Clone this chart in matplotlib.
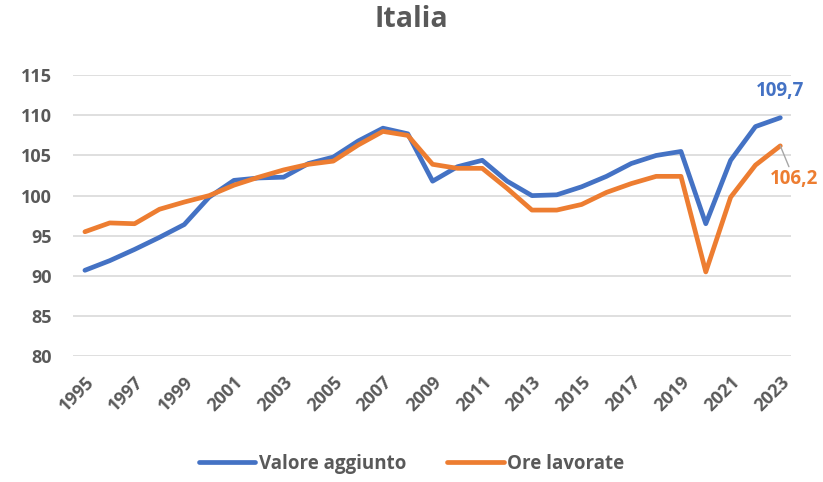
import numpy as np
import matplotlib.pyplot as plt

plt.rcParams['font.family'] = ['Open Sans', 'DejaVu Sans']
plt.rcParams['font.weight'] = 'bold'

# Dati (indice)
anni = list(range(1995, 2024))
valore_aggiunto = [90.7, 91.9, 93.3, 94.8, 96.4, 99.8, 101.9, 102.2, 102.3, 104.0,
                   104.8, 106.8, 108.4, 107.7, 101.8, 103.6, 104.4, 101.8, 100.0, 100.1,
                   101.1, 102.4, 104.0, 105.0, 105.5, 96.5, 104.4, 108.6, 109.7]
ore_lavorate = [95.5, 96.6, 96.5, 98.3, 99.2, 100.0, 101.3, 102.3, 103.2, 103.9,
                104.3, 106.3, 108.0, 107.5, 103.9, 103.4, 103.4, 100.9, 98.2, 98.2,
                98.9, 100.4, 101.5, 102.4, 102.4, 90.5, 99.8, 103.8, 106.2]
y_ticks = [80, 85, 90, 95, 100, 105, 110, 115]

BLU = '#4472C4'
ARANCIO = '#ED7D31'
GRIGIO = '#595959'

fig = plt.figure(figsize=(8.23, 4.82), dpi=100)
ax = fig.add_axes([0.0887, 0.261, 0.873, 0.583])

ax.plot(anni, valore_aggiunto, color=BLU, lw=3.4, label='Valore aggiunto', solid_capstyle='round')
ax.plot(anni, ore_lavorate, color=ARANCIO, lw=3.4, label='Ore lavorate', solid_capstyle='round')

ax.set_ylim(80, 115)
ax.set_xlim(1994.52, 2023.45)
ax.set_yticks(y_ticks)
ax.set_xticks(anni[::2])
ax.set_xticklabels([str(a) for a in anni[::2]], rotation=45, ha='right', rotation_mode='anchor')
ax.grid(axis='y', color='#D9D9D9', lw=1.2)
ax.set_axisbelow(True)
for s in ax.spines.values():
    s.set_visible(False)
ax.tick_params(length=0, labelsize=13, labelcolor=GRIGIO)
ax.tick_params(axis='y', pad=15)
ax.tick_params(axis='x', pad=12)

# etichette finali
ax.annotate('109,7', xy=(anni[-1], valore_aggiunto[-1]), xytext=(0, 12),
            textcoords='offset points', ha='center', va='bottom',
            color=BLU, fontsize=13.5, fontweight='bold')
ax.annotate('106,2', xy=(anni[-1], ore_lavorate[-1]), xytext=(10, -17),
            textcoords='offset points', ha='center', va='top',
            color=ARANCIO, fontsize=13.5, fontweight='bold',
            arrowprops=dict(arrowstyle='-', color='#A6A6A6', lw=1, shrinkA=0, shrinkB=0))

fig.suptitle('Italia', x=0.5, y=0.99, fontsize=20.5, fontweight='bold', color=GRIGIO)

leg = fig.legend(loc='lower center', bbox_to_anchor=(0.5, -0.018), ncol=2, frameon=False,
                 handlelength=3.0, handletextpad=0.2, columnspacing=2.2, fontsize=13.5)
for t in leg.get_texts():
    t.set_color(GRIGIO)

fig.savefig('out.png', dpi=100)
